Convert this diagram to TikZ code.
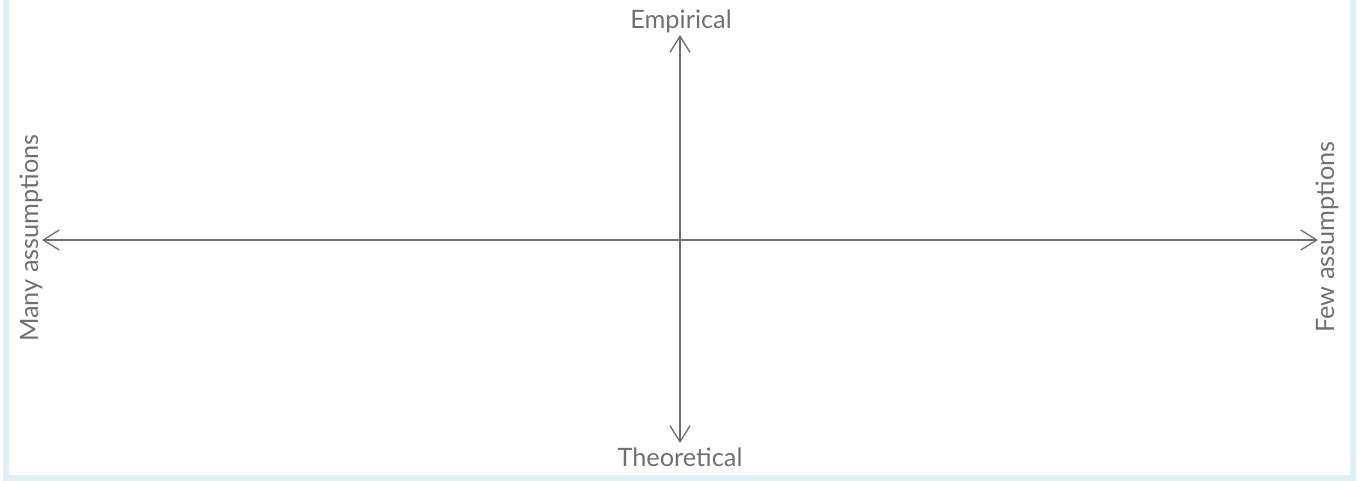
\documentclass[tikz,border=0pt]{standalone}
\usepackage{fontspec}
\setmainfont{Lato}
\usetikzlibrary{arrows.meta, positioning}
\definecolor{framecol}{HTML}{DCF0F5}
\definecolor{axiscol}{HTML}{6E6E6E}
\definecolor{labelcol}{HTML}{707070}

\begin{document}
\begin{tikzpicture}[x=0.75pt, y=-0.75pt,
  every node/.style={text=labelcol, font=\fontsize{19}{22}\selectfont, inner sep=0pt},
  axis/.style={draw=axiscol, line width=1pt, {Straight Barb[length=12pt,width=15pt]}-{Straight Barb[length=12pt,width=15pt]}},
  frame/.style={draw=framecol, line width=4.5pt}]
\useasboundingbox (0,0) rectangle (1363,480);
\draw[frame] (6,-5) -- (6,477.5) -- (1353,477.5) -- (1353,-5);
% axis labels
\node (emp) at (681,21) {Empirical};
\node (theo) at (680,457) {Theoretical};
\node[rotate=90] (many) at (31,238) {Many assumptions};
\node[rotate=90] (few) at (1327,237) {Few assumptions};
% arrow ends
\coordinate (top) at (680,35);
\coordinate (bottom) at (680,443);
\coordinate (left) at (42,240);
\coordinate (right) at (1318,240);
\draw[axis] (bottom) -- (top);
\draw[axis] (left) -- (right);
\end{tikzpicture}
\end{document}
